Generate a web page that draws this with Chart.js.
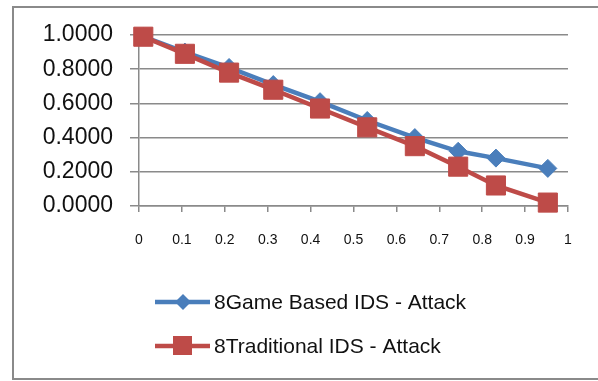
<!DOCTYPE html>
<html>
<head>
<meta charset="utf-8">
<script src="https://cdn.jsdelivr.net/npm/chart.js@4/dist/chart.umd.min.js"></script>
<style>
  html, body { margin: 0; padding: 0; background: #fff; }
  #wrap { width: 598px; height: 381px; }
</style>
</head>
<body>
<div id="wrap"><canvas id="myChart" width="598" height="381"></canvas></div>
<script>
// x positions of the points
const xValues = [0.01, 0.107, 0.21, 0.313, 0.422, 0.532, 0.643, 0.744, 0.832, 0.953];
const gameBased = [0.99, 0.90, 0.81, 0.71, 0.61, 0.50, 0.40, 0.32, 0.28, 0.22];
const traditional = [0.99, 0.89, 0.78, 0.68, 0.57, 0.46, 0.35, 0.23, 0.12, 0.02];
const seriesNames = ['8Game Based IDS - Attack', '8Traditional IDS - Attack'];

const BLUE = '#4a7ebb';
const RED = '#be4b48';
const GRID = '#8a8a8a';

function toPoints(ys) {
	return ys.map((y, i) => ({ x: xValues[i], y: y }));
}

// outer frame + legend drawn by hand (line with marker, like Excel)
const framePlugin = {
	id: 'frame',
	beforeDraw(chart) {
		const ctx = chart.ctx;
		ctx.save();
		ctx.fillStyle = '#fff';
		ctx.fillRect(0, 0, chart.width, chart.height);
		ctx.strokeStyle = GRID;
		ctx.lineWidth = 2;
		ctx.strokeRect(13, 7, chart.width + 10, 372);
		ctx.restore();
	},
	afterDraw(chart) {
		const ctx = chart.ctx;
		const rows = [302, 346];
		ctx.save();
		chart.data.datasets.forEach((ds, i) => {
			const y = rows[i];
			ctx.strokeStyle = ds.borderColor;
			ctx.lineWidth = 4.5;
			ctx.beginPath();
			ctx.moveTo(155, y);
			ctx.lineTo(210, y);
			ctx.stroke();
			ctx.fillStyle = ds.backgroundColor;
			ctx.beginPath();
			if (ds.pointStyle === 'rect') {
				ctx.rect(173, y - 10, 19, 19);
			} else {
				ctx.moveTo(183, y - 8);
				ctx.lineTo(191, y);
				ctx.lineTo(183, y + 8);
				ctx.lineTo(175, y);
				ctx.closePath();
			}
			ctx.fill();
			ctx.fillStyle = '#111';
			ctx.font = '21px "Liberation Sans", Arial, sans-serif';
			ctx.textBaseline = 'middle';
			ctx.textAlign = 'left';
			ctx.fillText(ds.label, 214, y + 1);
		});
		ctx.restore();
	}
};

const ctx = document.getElementById('myChart');
const myChart = new Chart(ctx, {
	type: 'scatter',
	data: {
		datasets: [
			{
				label: seriesNames[0],
				data: toPoints(gameBased),
				showLine: true,
				clip: false,
				borderColor: BLUE,
				backgroundColor: BLUE,
				borderWidth: 4.5,
				pointStyle: 'rectRot',
				pointRadius: 9,
				pointBorderWidth: 1,
				order: 1,
			},
			{
				label: seriesNames[1],
				data: toPoints(traditional),
				showLine: true,
				clip: false,
				borderColor: RED,
				backgroundColor: RED,
				borderWidth: 4.5,
				pointStyle: 'rect',
				pointRadius: 13.5,
				pointBorderWidth: 1,
				order: 0,
			},
		],
	},
	options: {
		responsive: false,
		animation: false,
		events: [],
		layout: {
			padding: { left: 12, right: 30, top: 35, bottom: 130 },
		},
		plugins: {
			legend: { display: false },
			tooltip: { enabled: false },
		},
		scales: {
			x: {
				type: 'linear',
				min: 0,
				max: 1,
				afterFit(scale) { scale.height = 45; },
				border: { color: GRID, width: 1.5 },
				grid: { drawOnChartArea: false, drawTicks: true, tickLength: 6, color: GRID, lineWidth: 1.5 },
				ticks: {
					stepSize: 0.1,
					padding: 20,
					color: '#111',
					font: { family: '"Liberation Sans", Arial, sans-serif', size: 14 },
					maxRotation: 0,
					callback: (v) => String(Math.round(v * 10) / 10),
				},
			},
			y: {
				min: 0,
				max: 1,
				afterFit(scale) { scale.width = 127; },
				border: { color: GRID, width: 1.5 },
				grid: { color: GRID, lineWidth: 1.5, tickLength: 9 },
				ticks: {
					stepSize: 0.2,
					padding: 17,
					color: '#111',
					font: { family: '"Liberation Sans", Arial, sans-serif', size: 23 },
					callback: (v) => v.toFixed(4),
				},
			},
		},
	},
	plugins: [framePlugin],
});
</script>
</body>
</html>
